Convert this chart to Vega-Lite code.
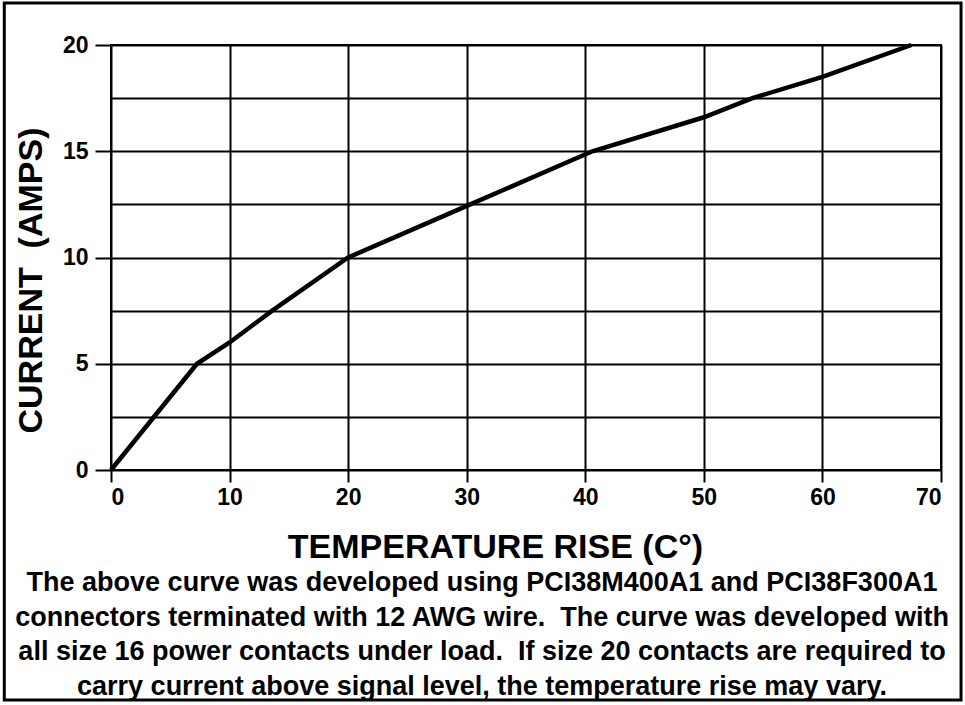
{
  "$schema": "https://vega.github.io/schema/vega-lite/v6.json",
  "width": 830,
  "height": 425,
  "autosize": {"type": "none"},
  "padding": {"left": 111, "top": 45, "right": 24, "bottom": 235},
  "background": "white",
  "config": {
    "font": "Liberation Sans",
    "view": {"stroke": "black", "strokeWidth": 2}
  },
  "title": {
    "text": [
      "The above curve was developed using PCI38M400A1 and PCI38F300A1",
      "connectors terminated with 12 AWG wire.\u00a0 The curve was developed with",
      "all size 16 power contacts under load.\u00a0 If size 20 contacts are required to",
      "carry current above signal level, the temperature rise may vary."
    ],
    "orient": "bottom",
    "anchor": "middle",
    "font": "Liberation Sans",
    "fontSize": 27,
    "fontWeight": "bold",
    "lineHeight": 34.5,
    "color": "black",
    "dx": -44,
    "offset": -131
  },
  "data": {
    "values": [
      {"temp": 0, "current": 0},
      {"temp": 7.25, "current": 5},
      {"temp": 10, "current": 6.0},
      {"temp": 13.6, "current": 7.5},
      {"temp": 20, "current": 10},
      {"temp": 30.3, "current": 12.5},
      {"temp": 40.6, "current": 15},
      {"temp": 50, "current": 16.6},
      {"temp": 54.1, "current": 17.5},
      {"temp": 60, "current": 18.5},
      {"temp": 67.5, "current": 20}
    ]
  },
  "layer": [
    {
      "mark": {"type": "line", "color": "black", "strokeWidth": 4.5},
      "encoding": {
        "x": {
          "field": "temp",
          "type": "quantitative",
          "title": "TEMPERATURE RISE (C°)",
          "scale": {"domain": [0, 70], "nice": false, "zero": false},
          "axis": {
            "values": [0, 10, 20, 30, 40, 50, 60, 70],
            "grid": true,
            "gridColor": "black",
            "gridWidth": 2,
            "gridOpacity": 1,
            "domain": false,
            "ticks": true,
            "tickColor": "black",
            "tickWidth": 2,
            "tickSize": 12,
            "labelFontSize": 23,
            "labelFontWeight": "bold",
            "labelColor": "black",
            "labelPadding": 4,
            "titleFontSize": 34,
            "titleFontWeight": "bold",
            "titleColor": "black",
            "titlePadding": 21,
            "titleX": 384,
            "titleAlign": "center"
          }
        },
        "y": {
          "field": "current",
          "type": "quantitative",
          "title": "CURRENT\u00a0 (AMPS)",
          "scale": {"domain": [0, 20], "nice": false, "zero": false},
          "axis": {
            "values": [0, 2.5, 5, 7.5, 10, 12.5, 15, 17.5, 20],
            "grid": true,
            "gridColor": "black",
            "gridWidth": 2,
            "gridOpacity": 1,
            "domain": false,
            "ticks": true,
            "tickColor": "black",
            "tickWidth": 2,
            "tickSize": 16,
            "tickOpacity": {"condition": {"test": "datum.value % 5 === 0", "value": 1}, "value": 0},
            "labelExpr": "datum.value % 5 === 0 ? datum.label : ''",
            "labelFontSize": 23,
            "labelFontWeight": "bold",
            "labelColor": "black",
            "labelPadding": 7,
            "titleFontSize": 34,
            "titleFontWeight": "bold",
            "titleColor": "black",
            "titlePadding": 14,
            "titleY": 235
          }
        }
      }
    },
    {
      "data": {"values": [{"part": "frame"}]},
      "mark": {"type": "rect", "filled": false, "stroke": "black", "strokeWidth": 3, "clip": false},
      "encoding": {
        "x": {"datum": -9.0, "type": "quantitative", "title": "TEMPERATURE RISE (C°)"},
        "x2": {"datum": 71.69},
        "y": {"datum": 21.98, "type": "quantitative", "title": "CURRENT\u00a0 (AMPS)"},
        "y2": {"datum": -10.82}
      }
    }
  ]
}
